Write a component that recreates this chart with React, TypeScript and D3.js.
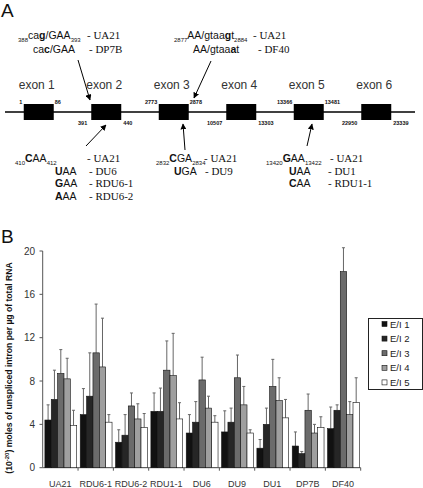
import React from 'react';
import * as d3 from 'd3';

// ---------- Panel B data ----------
const categories = ['UA21', 'RDU6-1', 'RDU6-2', 'RDU1-1', 'DU6', 'DU9', 'DU1', 'DP7B', 'DF40'];
const seriesNames = ['E/I 1', 'E/I 2', 'E/I 3', 'E/I 4', 'E/I 5'];
const ei1 = [4.4, 4.9, 2.35, 5.2, 3.2, 3.3, 1.8, 2.0, 3.6];
const ei2 = [6.3, 6.6, 3.0, 5.2, 4.2, 4.2, 4.0, 1.3, 5.3];
const ei3 = [8.7, 10.6, 5.7, 9.0, 8.1, 8.3, 7.5, 5.3, 18.1];
const ei4 = [8.2, 9.3, 4.5, 8.5, 5.5, 5.8, 6.2, 3.2, 4.9];
const ei5 = [3.9, 4.2, 3.7, 4.5, 4.2, 3.2, 4.6, 3.7, 6.0];
const err1 = [1.4, 2.4, 1.15, 1.7, 1.7, 1.95, 0.8, 1.3, 2.0];
const err2 = [2.7, 4.0, 1.9, 2.15, 1.9, 1.3, 1.5, 0.2, 0.5];
const err3 = [2.2, 4.5, 1.2, 2.7, 2.1, 2.1, 2.5, 1.5, 2.2];
const err4 = [1.9, 4.5, 1.4, 3.9, 1.1, 1.7, 2.1, 0.8, 1.2];
const err5 = [1.4, 0.7, 1.3, 1.5, 0.6, 0.3, 1.7, 1.0, 2.3];
const yTicks = [0, 4, 8, 12, 16, 20];
const seriesColors = ['#111111', '#262626', '#6b6b6b', '#9f9f9f', '#ffffff'];

// ---------- Panel A data ----------
const exonNames = ['exon 1', 'exon 2', 'exon 3', 'exon 4', 'exon 5', 'exon 6'];
const exonStarts = [1, 391, 2773, 10507, 13366, 22950];
const exonEnds = [86, 440, 2878, 13303, 13481, 23339];
const exonLabelAbove = [true, false, true, false, true, false];

const SANS = 'Liberation Sans, Arial, sans-serif';
const SERIF = 'Liberation Serif, Times New Roman, serif';

type Seg = { t: string; b?: boolean; s?: boolean };

function Rich({ x, y, segs, size = 10.5 }: { x: number; y: number; segs: Seg[]; size?: number }) {
  let cur = 0;
  const out: any[] = [];
  segs.forEach((sg, i) => {
    const target = sg.s ? 3 : 0;
    const dy = target - cur;
    cur = target;
    out.push(
      <tspan key={i} dy={dy} fontSize={sg.s ? 6 : size} fontWeight={sg.b ? 'bold' : 'normal'}>
        {sg.t}
      </tspan>
    );
  });
  return (
    <text x={x} y={y} fontFamily={SANS} fill="#111" style={{ whiteSpace: 'pre' }}>
      {out}
    </text>
  );
}

function Tag({ x, y, t }: { x: number; y: number; t: string }) {
  return (
    <text x={x} y={y} fontFamily={SERIF} fontSize={11} fill="#111">
      {t}
    </text>
  );
}

export default function App() {
  const W = 423;
  const H = 488;

  // Panel A scales
  const exonX = d3.scalePoint<string>().domain(exonNames).range([5, 410]).padding(0.5);
  const exonW = 30;
  const lineY = 112;
  const boxTop = 104;
  const boxH = 16;

  // Panel B scales
  const x0 = d3.scaleBand<string>().domain(categories).range([42.7, 360.7]).paddingInner(0).paddingOuter(0);
  const x1 = d3.scaleBand<string>().domain(seriesNames).range([2.2, 34]).padding(0);
  const y = d3.scaleLinear().domain([0, 20]).range([467.7, 251]);
  const vals = [ei1, ei2, ei3, ei4, ei5];
  const errs = [err1, err2, err3, err4, err5];

  const arrows = [
    [78, 60, 90, 100],
    [211, 61, 194, 98],
    [86, 146, 106, 125],
    [185, 150, 183, 124],
    [307, 146, 312, 124],
  ];

  return (
    <svg width={W} height={H} style={{ position: 'absolute', left: 0, top: 0, background: '#fff' }}>
      <defs>
        <marker id="ah" viewBox="0 0 10 10" refX="9" refY="5" markerWidth="6" markerHeight="6" orient="auto">
          <path d="M0,0 L10,5 L0,10 z" fill="#000" />
        </marker>
      </defs>
      <rect width={W} height={H} fill="#fff" />

      {/* Panel labels */}
      <text x={1} y={17} fontFamily={SANS} fontSize={19} fill="#111">A</text>
      <text x={1} y={243} fontFamily={SANS} fontSize={19} fill="#111">B</text>

      {/* Panel A: gene structure */}
      <line x1={5} x2={415} y1={lineY} y2={lineY} stroke="#000" strokeWidth={1.5} />
      {exonNames.map((n, i) => {
        const cx = exonX(n)!;
        const left = cx - exonW / 2;
        const right = cx + exonW / 2;
        const above = exonLabelAbove[i];
        return (
          <g key={n}>
            <rect x={left} y={boxTop} width={exonW} height={boxH} fill="#000" />
            <text x={cx - 2} y={89} textAnchor="middle" fontFamily={SANS} fontSize={12} fill="#333">{n}</text>
            <text x={above ? left - 1.5 : left - 4} y={above ? 104 : 125} textAnchor="end" fontFamily={SANS} fontSize={5.5} fontWeight="bold" fill="#111">{exonStarts[i]}</text>
            <text x={above ? right + 1 : right + 2} y={above ? 104 : 125} textAnchor="start" fontFamily={SANS} fontSize={5.5} fontWeight="bold" fill="#111">{exonEnds[i]}</text>
          </g>
        );
      })}
      {arrows.map((a, i) => (
        <line key={i} x1={a[0]} y1={a[1]} x2={a[2]} y2={a[3]} stroke="#000" strokeWidth={1} markerEnd="url(#ah)" />
      ))}

      {/* top-left annotation */}
      <Rich x={18} y={39} segs={[{ t: '388', s: true }, { t: 'ca' }, { t: 'g', b: true }, { t: '/GAA' }, { t: '393', s: true }]} />
      <Tag x={87} y={39} t="- UA21" />
      <Rich x={33} y={53} segs={[{ t: 'ca' }, { t: 'c', b: true }, { t: '/GAA' }]} />
      <Tag x={89} y={53} t="- DP7B" />

      {/* top-middle annotation */}
      <Rich x={174} y={39} segs={[{ t: '2877', s: true }, { t: 'AA/gtaa' }, { t: 'g', b: true }, { t: 't' }, { t: '2884', s: true }]} />
      <Tag x={253} y={39} t="- UA21" />
      <Rich x={193} y={53} segs={[{ t: 'AA/gtaa' }, { t: 'a', b: true }, { t: 't' }]} />
      <Tag x={258} y={53} t="- DF40" />

      {/* bottom-left annotation */}
      <Rich x={15} y={162} segs={[{ t: '410', s: true }, { t: 'C', b: true }, { t: 'AA' }, { t: '412', s: true }]} />
      <Tag x={87} y={162} t="- UA21" />
      <Rich x={55} y={174.5} segs={[{ t: 'U', b: true }, { t: 'AA' }]} />
      <Tag x={89} y={174.5} t="- DU6" />
      <Rich x={55} y={187} segs={[{ t: 'G', b: true }, { t: 'AA' }]} />
      <Tag x={89} y={187} t="- RDU6-1" />
      <Rich x={55} y={200} segs={[{ t: 'A', b: true }, { t: 'AA' }]} />
      <Tag x={89} y={200} t="- RDU6-2" />

      {/* bottom-middle annotation */}
      <Rich x={156} y={162} segs={[{ t: '2832', s: true }, { t: 'C', b: true }, { t: 'GA' }, { t: '2834', s: true }]} />
      <Tag x={204} y={162} t="- UA21" />
      <Rich x={174} y={174.5} segs={[{ t: 'U', b: true }, { t: 'GA' }]} />
      <Tag x={205} y={174.5} t="- DU9" />

      {/* bottom-right annotation */}
      <Rich x={266} y={162} segs={[{ t: '13420', s: true }, { t: 'G', b: true }, { t: 'AA' }, { t: '13422', s: true }]} />
      <Tag x={330} y={162} t="- UA21" />
      <Rich x={289} y={174.5} segs={[{ t: 'U', b: true }, { t: 'AA' }]} />
      <Tag x={328} y={174.5} t="- DU1" />
      <Rich x={289} y={187} segs={[{ t: 'C', b: true }, { t: 'AA' }]} />
      <Tag x={328} y={187} t="- RDU1-1" />

      {/* Panel B: axes */}
      <line x1={42.7} x2={42.7} y1={y(20)} y2={y(0)} stroke="#555" strokeWidth={1} />
      {yTicks.map((t) => (
        <g key={t}>
          <line x1={39.5} x2={42.7} y1={y(t)} y2={y(t)} stroke="#555" />
          <text x={35} y={y(t) + 3.5} textAnchor="end" fontFamily={SANS} fontSize={10} fill="#333">{t}</text>
        </g>
      ))}
      <line x1={42.7} x2={360.7} y1={y(0)} y2={y(0)} stroke="#555" strokeWidth={1} />
      {categories.map((c) => (
        <line key={c} x1={x0(c)! + x0.bandwidth()} x2={x0(c)! + x0.bandwidth()} y1={y(0)} y2={y(0) + 3} stroke="#555" />
      ))}
      {categories.map((c) => (
        <text key={c} x={x0(c)! + x0.bandwidth() / 2} y={487} textAnchor="middle" fontFamily={SANS} fontSize={9} fill="#333">{c}</text>
      ))}

      {/* Y axis title */}
      <text transform="translate(12,368) rotate(-90)" textAnchor="middle" fontFamily={SANS} fontSize={8.6} fontWeight="bold" fill="#111">
        <tspan>(10</tspan>
        <tspan dy={-3} fontSize={6}>-20</tspan>
        <tspan dy={3}>) moles of unspliced intron per µg of total RNA</tspan>
      </text>

      {/* bars */}
      {categories.map((c, ci) => (
        <g key={c} transform={`translate(${x0(c)},0)`}>
          {seriesNames.map((s, si) => {
            const v = vals[si][ci];
            const e = errs[si][ci];
            const bx = x1(s)!;
            const bw = x1.bandwidth();
            const cx = bx + bw / 2;
            return (
              <g key={s}>
                <line x1={cx} x2={cx} y1={y(v)} y2={y(v + e)} stroke="#666" strokeWidth={1} />
                <line x1={cx - 1.5} x2={cx + 1.5} y1={y(v + e)} y2={y(v + e)} stroke="#666" strokeWidth={1} />
                <rect x={bx} y={y(v)} width={bw} height={y(0) - y(v)} fill={seriesColors[si]} stroke="#111" strokeWidth={0.6} />
              </g>
            );
          })}
        </g>
      ))}

      {/* legend */}
      <rect x={368.5} y={318.5} width={54} height={71} fill="#fff" stroke="#222" strokeWidth={1} />
      {seriesNames.map((s, i) => (
        <g key={s}>
          <rect x={382} y={321.5 + i * 14.6} width={5} height={5} fill={seriesColors[i]} stroke="#111" strokeWidth={0.6} />
          <text x={390} y={327.5 + i * 14.6} fontFamily={SANS} fontSize={9.5} fill="#222">{s}</text>
        </g>
      ))}
    </svg>
  );
}
